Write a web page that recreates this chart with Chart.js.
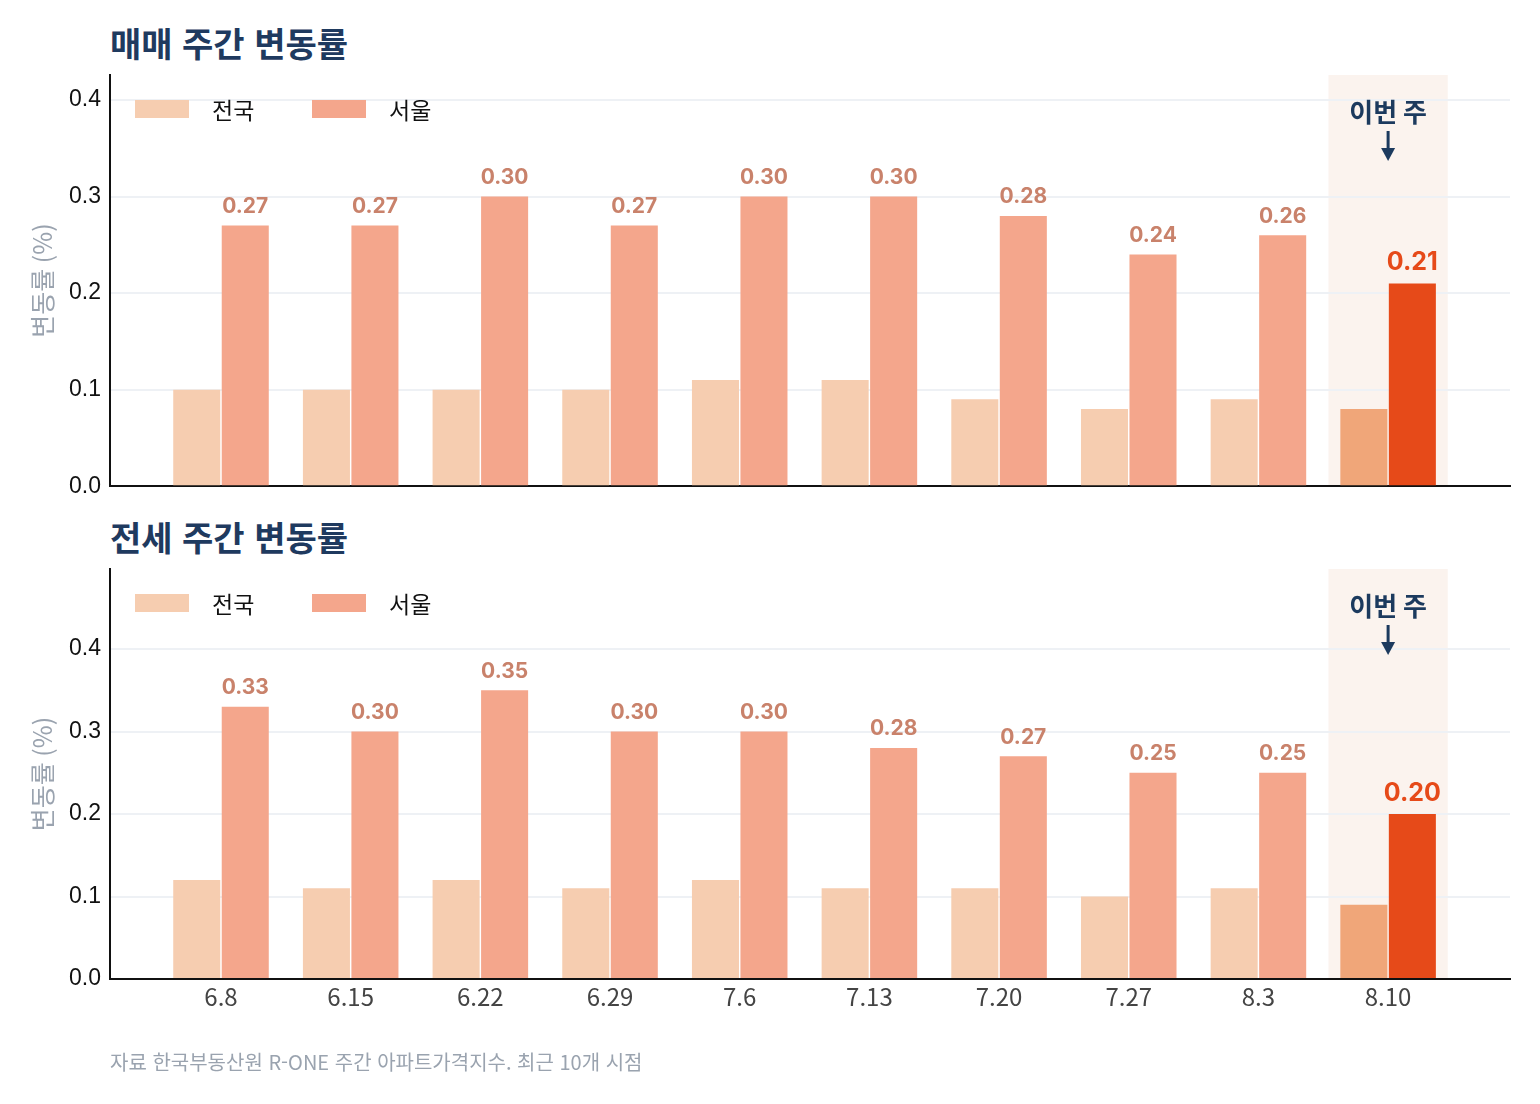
<!DOCTYPE html>
<html lang="ko">
<head>
<meta charset="utf-8">
<title>주간 변동률</title>
<script src="https://cdn.jsdelivr.net/npm/chart.js@4.4.1/dist/chart.umd.min.js"></script>
<style>
  html, body { margin: 0; padding: 0; background: #fff; }
  #wrap { position: relative; width: 1540px; height: 1104px; font-family: 'Noto Sans CJK KR', 'Noto Sans', sans-serif; }
  .title { position: absolute; left: 110px; font-size: 34px; font-weight: 700; color: #1F3A5F; line-height: 40px; }
  .box { position: absolute; left: 0; width: 1540px; }
  #foot { position: absolute; left: 110px; top: 1049px; font-size: 20px; color: #9AA3AF; line-height: 26px; }
</style>
</head>
<body>
<div id="wrap">
  <div class="title" style="top:23px">매매 주간 변동률</div>
  <div class="box" style="top:0; height:509px"><canvas id="saleChart" width="1540" height="509"></canvas></div>
  <div class="title" style="top:517px">전세 주간 변동률</div>
  <div class="box" style="top:494px; height:560px"><canvas id="rentChart" width="1540" height="560"></canvas></div>
  <div id="foot">자료 한국부동산원 R-ONE 주간 아파트가격지수. 최근 10개 시점</div>
</div>
<script>
// weekly change rate (%), last 10 weeks
const weeks = ['6.8', '6.15', '6.22', '6.29', '7.6', '7.13', '7.20', '7.27', '8.3', '8.10'];
const yTicks = [0, 0.1, 0.2, 0.3, 0.4];

const saleNation = [0.10, 0.10, 0.10, 0.10, 0.11, 0.11, 0.09, 0.08, 0.09, 0.08];
const saleSeoul  = [0.27, 0.27, 0.30, 0.27, 0.30, 0.30, 0.28, 0.24, 0.26, 0.21];
const rentNation = [0.12, 0.11, 0.12, 0.11, 0.12, 0.11, 0.11, 0.10, 0.11, 0.09];
const rentSeoul  = [0.33, 0.30, 0.35, 0.30, 0.30, 0.28, 0.27, 0.25, 0.25, 0.20];

const NATION = '#F6CDB0', NATION_HI = '#F0A679';
const SEOUL = '#F4A68C', SEOUL_HI = '#E64A19';
const NAVY = '#1C3A5E';
const lastIdx = weeks.length - 1;

// shaded band behind the current week
const bandPlugin = {
  id: 'band',
  beforeDraw(chart) {
    const { ctx, chartArea, scales } = chart;
    const x0 = scales.x.getPixelForValue(lastIdx - 0.46);
    const x1 = scales.x.getPixelForValue(lastIdx + 0.46);
    ctx.save();
    ctx.fillStyle = '#FBF3EE';
    ctx.fillRect(x0, chartArea.top, x1 - x0, chartArea.bottom - chartArea.top);
    ctx.restore();
  },
  afterDatasetsDraw(chart) {
    const { ctx, chartArea, scales } = chart;
    const cx = scales.x.getPixelForValue(lastIdx);
    const top = chartArea.top;
    ctx.save();
    ctx.fillStyle = NAVY;
    ctx.strokeStyle = NAVY;
    ctx.font = "700 26px 'Noto Sans CJK KR'";
    ctx.textAlign = 'center';
    ctx.textBaseline = 'middle';
    ctx.fillText('이번 주', cx, top + 37);
    // arrow
    ctx.lineWidth = 3;
    ctx.beginPath();
    ctx.moveTo(cx, top + 56);
    ctx.lineTo(cx, top + 76);
    ctx.stroke();
    ctx.beginPath();
    ctx.moveTo(cx - 7, top + 73);
    ctx.lineTo(cx + 7, top + 73);
    ctx.lineTo(cx, top + 86);
    ctx.closePath();
    ctx.fill();
    ctx.restore();
  }
};

// value labels above the Seoul bars
const valueLabels = {
  id: 'valueLabels',
  afterDatasetsDraw(chart) {
    const { ctx } = chart;
    const meta = chart.getDatasetMeta(1);
    const values = chart.data.datasets[1].data;
    ctx.save();
    ctx.textAlign = 'center';
    ctx.textBaseline = 'middle';
    meta.data.forEach((bar, i) => {
      const v = values[i].y;
      if (i === lastIdx) {
        ctx.font = "700 25px Inter, 'Noto Sans'";
        ctx.fillStyle = SEOUL_HI;
        ctx.fillText(v.toFixed(2), bar.x, bar.y - 21);
      } else {
        ctx.font = "700 21px Inter, 'Noto Sans'";
        ctx.fillStyle = '#C9826B';
        ctx.fillText(v.toFixed(2), bar.x, bar.y - 19);
      }
    });
    ctx.restore();
  }
};

// legend drawn inside the plot area
const innerLegend = {
  id: 'innerLegend',
  afterDraw(chart) {
    const { ctx, chartArea } = chart;
    const slots = [135, 312];
    ctx.save();
    ctx.font = "400 23px 'Noto Sans CJK KR'";
    ctx.textBaseline = 'middle';
    ctx.textAlign = 'left';
    chart.data.datasets.forEach((ds, i) => {
      const x = slots[i];
      const y = chartArea.top + 25;
      ctx.fillStyle = ds.backgroundColor[0];
      ctx.fillRect(x, y, 54, 18);
      ctx.fillStyle = '#111';
      ctx.fillText(ds.label, x + 77, y + 10);
    });
    ctx.restore();
  }
};

function makePanel(canvasId, nation, seoul, yMax, showX) {
  const toPoints = arr => arr.map((v, i) => ({ x: i, y: v }));
  return new Chart(document.getElementById(canvasId), {
    type: 'bar',
    data: {
      datasets: [
        {
          label: '전국',
          data: toPoints(nation),
          backgroundColor: nation.map((_, i) => i === lastIdx ? NATION_HI : NATION),
          categoryPercentage: 0.748,
          barPercentage: 0.97
        },
        {
          label: '서울',
          data: toPoints(seoul),
          backgroundColor: seoul.map((_, i) => i === lastIdx ? SEOUL_HI : SEOUL),
          categoryPercentage: 0.748,
          barPercentage: 0.97
        }
      ]
    },
    options: {
      responsive: false,
      animation: false,
      layout: { padding: { top: 75, right: 30, left: 0, bottom: 0 } },
      plugins: {
        legend: { display: false },
        tooltip: { enabled: false }
      },
      scales: {
        x: {
          type: 'linear',
          min: -0.856,
          max: 9.94,
          offset: false,
          grid: { display: false },
          border: { display: true, color: '#111', width: 2 },
          afterBuildTicks: scale => { scale.ticks = weeks.map((_, i) => ({ value: i })); },
          afterFit: scale => { scale.height = showX ? 75 : 15; },
          ticks: {
            display: showX,
            padding: -5,
            color: '#444',
            font: { family: "'Noto Sans CJK KR'", size: 24 },
            callback: v => weeks[v]
          }
        },
        y: {
          min: 0,
          max: yMax,
          afterFit: scale => { scale.width = 110; },
          afterBuildTicks: scale => { scale.ticks = yTicks.map(v => ({ value: v })); },
          grid: { color: '#EEF1F5', lineWidth: 2, drawTicks: false },
          border: { display: true, color: '#111', width: 2 },
          ticks: {
            padding: 9,
            color: '#111',
            font: { family: "'Liberation Sans', Arial", size: 23 },
            callback: v => v.toFixed(1)
          },
          title: {
            display: true,
            text: '변동률 (%)',
            color: '#9AA3AF',
            font: { family: "'Noto Sans CJK KR'", size: 25 },
            padding: { top: 27, bottom: 0 }
          }
        }
      }
    },
    plugins: [bandPlugin, valueLabels, innerLegend]
  });
}

makePanel('saleChart', saleNation, saleSeoul, 0.30 * 1.42, false);
makePanel('rentChart', rentNation, rentSeoul, 0.35 * 1.42, true);
</script>
</body>
</html>
